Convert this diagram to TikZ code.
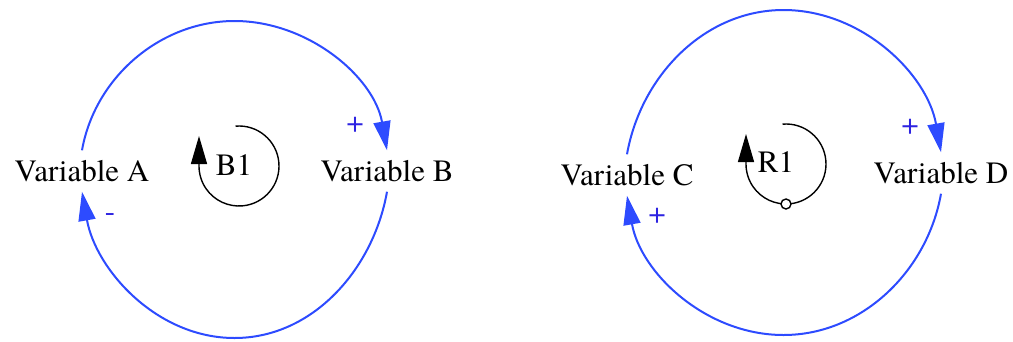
\documentclass[tikz,border=0pt]{standalone}
\usepackage{fontspec}
\setmainfont{texgyretermes-regular.otf}
\usetikzlibrary{arrows.meta}
\definecolor{linkblue}{RGB}{45,75,255}
\definecolor{signblue}{RGB}{45,35,225}

\begin{document}
\begin{tikzpicture}[
    x=1pt, y=1pt,
    every node/.style={font=\fontsize{31}{36}\selectfont},
    var/.style={inner xsep=2pt, inner ysep=10pt, text height=21pt, text depth=0pt},
    link/.style={color=linkblue, line width=2pt, looseness=0.95},
    tip/.style={-{Triangle[length=29pt, width=17pt]}},
    sign/.style={text=signblue, inner sep=0pt},
    loopline/.style={color=black, line width=1.4pt, -{Triangle[length=28pt, width=16pt]}},
    hollow/.style={circle, draw=black, line width=1.4pt, fill=white, inner sep=0pt, minimum size=10pt}
]
\useasboundingbox (0,0) rectangle (1013,-341);

	\node[var] (varA) at (82,-171) {Variable A};
	\node[var] (varB) at (387,-171) {Variable B};
	\node[var] (varC) at (627,-175) {Variable C};
	\node[var] (varD) at (941,-173) {Variable D};

	\coordinate (topL) at (234.5,-21);
	\coordinate (botL) at (234.5,-338);
	\coordinate (topR) at (783.5,-10);
	\coordinate (botR) at (783.5,-335);

	\draw[link, tip] (varA.north) to[out=80, in=180] (topL) to[out=0, in=100] (varB.north);
	\draw[link, tip] (varB.south) to[out=-100, in=0] (botL) to[out=180, in=-80] (varA.south);
	\draw[link, tip] (varC.north) to[out=80, in=180] (topR) to[out=0, in=100] (varD.north);
	\draw[link, tip] (varD.south) to[out=-100, in=0] (botR) to[out=180, in=-80] (varC.south);

	\node[sign] (sgnAB) at (355,-125) {+};
	\node[sign] (sgnBA) at (110,-218) {-};
	\node[sign] (sgnCD) at (910,-127) {+};
	\node[sign] (sgnDC) at (657,-216) {+};

	\coordinate (ctrB) at (239,-166);
	\coordinate (ctrR) at (786,-164);
	\node (lblB) at (234,-165) {B1};
	\node (lblR) at (776,-162) {R1};
	\draw[loopline] ([shift={(95:40)}]ctrB) arc[start angle=95, end angle=-180, radius=40] -- ++(0,30);
	\draw[loopline] ([shift={(95:40)}]ctrR) arc[start angle=95, end angle=-180, radius=40] -- ++(0,30);
	\node[hollow] (dotR) at ([shift={(-90:40)}]ctrR) {};
\end{tikzpicture}
\end{document}
